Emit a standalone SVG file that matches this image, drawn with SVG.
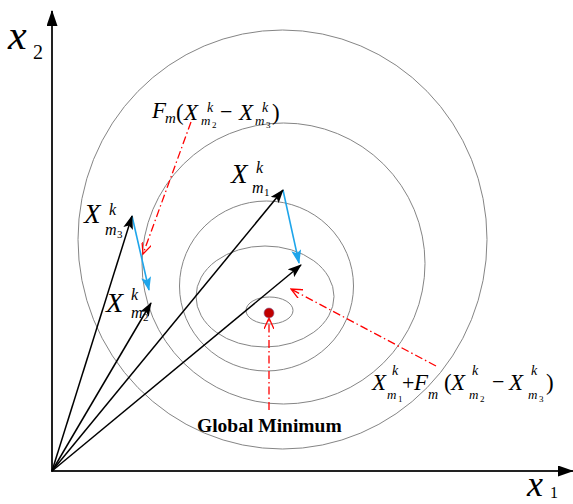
<svg xmlns="http://www.w3.org/2000/svg" width="573" height="504" viewBox="0 0 573 504">
<style>
text{font-family:"Liberation Serif","Times New Roman",serif;fill:#000}
.it{font-style:italic}
.contour{fill:none;stroke:#858585;stroke-width:1}
.vec{stroke:#000;stroke-width:1.5;fill:none}
.diff{stroke:#1ea5ea;stroke-width:1.6;fill:none}
.guide{stroke:#ff0000;stroke-width:1.3;fill:none;stroke-dasharray:8 3 1.5 3}
.axis{stroke:#222;stroke-width:2;fill:none}
</style>
<defs>
<marker id="ab" viewBox="0 0 14 10" refX="13" refY="5" markerWidth="14" markerHeight="10" markerUnits="userSpaceOnUse" orient="auto"><path d="M0,0 L14,5 L0,10 L3,5 z" fill="#000"/></marker>
<marker id="ax" viewBox="0 0 16 11" refX="15" refY="5.5" markerWidth="16" markerHeight="11" markerUnits="userSpaceOnUse" orient="auto"><path d="M0,0 L16,5.5 L0,11 z" fill="#000"/></marker>
<marker id="ac" viewBox="0 0 14 10" refX="13" refY="5" markerWidth="14" markerHeight="10" markerUnits="userSpaceOnUse" orient="auto"><path d="M0,0 L14,5 L0,10 L3,5 z" fill="#1ea5ea"/></marker>
<marker id="ar" viewBox="0 0 12 10" refX="11" refY="5" markerWidth="12" markerHeight="10" markerUnits="userSpaceOnUse" orient="auto"><path d="M0,0 L11,5 L0,10" fill="none" stroke="#ff0000" stroke-width="1.3"/></marker>
</defs>
<rect width="573" height="504" fill="#fff"/>
<g id="contours">
<ellipse class="contour" cx="282.5" cy="239.5" rx="204.5" ry="209.5"/>
<ellipse class="contour" cx="283.5" cy="263.5" rx="141.5" ry="140.5"/>
<ellipse class="contour" cx="266.5" cy="286" rx="87" ry="85"/>
<ellipse class="contour" cx="265" cy="296.5" rx="69" ry="50.5"/>
<ellipse class="contour" cx="269.5" cy="310.5" rx="23.5" ry="13.5"/>
</g>
<g id="axes">
<line class="axis" x1="52" y1="472" x2="52" y2="11" marker-end="url(#ax)"/>
<line class="axis" x1="51" y1="471" x2="573" y2="471" marker-end="url(#ax)"/>
<text class="it" x="8" y="49" font-size="42">x</text><text x="33" y="59" font-size="20">2</text>
<text class="it" x="527" y="496" font-size="36">x</text><text x="550" y="498" font-size="16">1</text>
</g>
<g id="connectors">
<line class="diff" x1="132" y1="216" x2="149" y2="290" marker-end="url(#ac)"/>
<line class="diff" x1="283" y1="190" x2="299" y2="263" marker-end="url(#ac)"/>
<line class="vec" x1="52" y1="471" x2="132" y2="216" marker-end="url(#ab)"/>
<line class="vec" x1="52" y1="471" x2="151" y2="303" marker-end="url(#ab)"/>
<line class="vec" x1="52" y1="471" x2="283" y2="190" marker-end="url(#ab)"/>
<line class="vec" x1="52" y1="471" x2="301" y2="265" marker-end="url(#ab)"/>
<line class="guide" x1="191" y1="122" x2="143" y2="254" marker-end="url(#ar)"/>
<line class="guide" x1="436" y1="366" x2="291" y2="289" marker-end="url(#ar)"/>
<line class="guide" x1="269" y1="410" x2="269" y2="318" marker-end="url(#ar)"/>
</g>
<g id="minimum">
<circle cx="269" cy="313" r="5" fill="#c00000" stroke="#8a6d9f" stroke-width="0.6"/>
<text x="197" y="432" font-size="19.5" font-weight="bold">Global Minimum</text>
</g>
<g id="label-xm1">
<text class="it" x="231" y="183" font-size="27">X</text>
<text class="it" x="256" y="173" font-size="16">k</text>
<text class="it" x="252" y="193" font-size="16">m</text>
<text x="264" y="196" font-size="11">1</text>
</g>
<g id="label-xm3">
<text class="it" x="84" y="223" font-size="27">X</text>
<text class="it" x="109" y="215" font-size="16">k</text>
<text class="it" x="105" y="235" font-size="16">m</text>
<text x="117" y="238" font-size="11">3</text>
</g>
<g id="label-xm2">
<text class="it" x="106" y="312" font-size="28">X</text>
<text class="it" x="131" y="300" font-size="16">k</text>
<text class="it" x="131" y="318" font-size="16">m</text>
<text x="143" y="321" font-size="11">2</text>
</g>
<g id="label-diff">
<text class="it" x="152" y="118" font-size="23">F</text>
<text class="it" x="165" y="123" font-size="15">m</text>
<text x="176" y="120" font-size="23">(</text>
<text class="it" x="184" y="120" font-size="23">X</text>
<text class="it" x="207" y="112" font-size="14">k</text>
<text class="it" x="201" y="125" font-size="13">m</text>
<text x="212" y="128" font-size="9">2</text>
<text x="220" y="119" font-size="22">−</text>
<text class="it" x="239" y="120" font-size="23">X</text>
<text class="it" x="262" y="112" font-size="14">k</text>
<text class="it" x="255" y="125" font-size="13">m</text>
<text x="266" y="128" font-size="9">3</text>
<text x="272" y="120" font-size="23">)</text>
</g>
<g id="label-trial">
<text class="it" x="372" y="390" font-size="23">X</text>
<text class="it" x="392" y="375" font-size="14">k</text>
<text class="it" x="387" y="399" font-size="13">m</text>
<text x="398" y="402" font-size="9">1</text>
<text x="402" y="390" font-size="22">+</text>
<text class="it" x="414" y="390" font-size="23">F</text>
<text class="it" x="428" y="399" font-size="14">m</text>
<text x="444" y="390" font-size="23">(</text>
<text class="it" x="451" y="390" font-size="23">X</text>
<text class="it" x="472" y="375" font-size="14">k</text>
<text class="it" x="469" y="399" font-size="13">m</text>
<text x="480" y="402" font-size="9">2</text>
<text x="492" y="389" font-size="22">−</text>
<text class="it" x="509" y="390" font-size="23">X</text>
<text class="it" x="531" y="375" font-size="14">k</text>
<text class="it" x="528" y="399" font-size="13">m</text>
<text x="539" y="402" font-size="9">3</text>
<text x="546" y="390" font-size="23">)</text>
</g>
</svg>
